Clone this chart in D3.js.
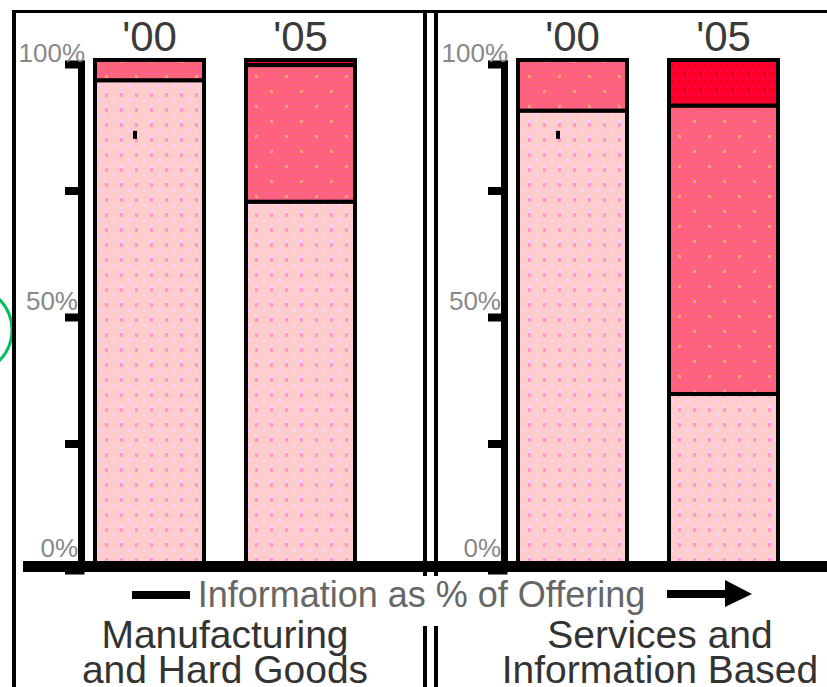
<!DOCTYPE html>
<html>
<head>
<meta charset="utf-8">
<script src="https://cdn.jsdelivr.net/npm/d3@7"></script>
<style>
  html, body { margin: 0; padding: 0; background: #fff; }
  svg { display: block; font-family: "Liberation Sans", Arial, sans-serif; }
</style>
</head>
<body>
<svg id="chart" width="827" height="687"></svg>
<script>
// ---- data -------------------------------------------------------------
const years = ["'00", "'05"];
const sectorLines = [["Manufacturing", "and Hard Goods"], ["Services and", "Information Based"]];

// share of the offering (%) in each layer, one value per year
const mfgProduct = [96, 72];
const mfgBlended = [4, 27];
const mfgInformation = [0, 1];
const svcProduct = [90, 34];
const svcBlended = [10, 57];
const svcInformation = [0, 9];

const tickValues = [0, 25, 50, 75, 100];
const tickLabels = ["0%", "", "50%", "", "100%"];
const axisCaption = "Information as % of Offering";

const layerKeys = ["product", "blended", "information"];

const sectors = [
  years.map((yr, i) => ({ year: yr, product: mfgProduct[i], blended: mfgBlended[i], information: mfgInformation[i] })),
  years.map((yr, i) => ({ year: yr, product: svcProduct[i], blended: svcBlended[i], information: svcInformation[i] }))
];

// ---- layout -----------------------------------------------------------
const W = 827, H = 687;
const svg = d3.select("#chart");

const y = d3.scaleLinear().domain([0, 100]).range([566, 60]);
const panelX = d3.scaleBand().domain([0, 1]).range([0, 846]);
const x = d3.scaleBand().domain(years).range([95, 355]).paddingInner(42 / 151).paddingOuter(0);
const axisX = 81;
const captionShift = [0, 12];

// ---- fill patterns ----------------------------------------------------
const defs = svg.append("defs");

const pProduct = defs.append("pattern").attr("id", "fill-product")
  .attr("patternUnits", "userSpaceOnUse").attr("width", 15).attr("height", 15);
pProduct.append("rect").attr("width", 15).attr("height", 15).attr("fill", "#ffcccc");
pProduct.append("rect").attr("x", 0).attr("y", 0).attr("width", 3).attr("height", 3).attr("fill", "#ffccff");
pProduct.append("rect").attr("x", 0).attr("y", 3).attr("width", 3).attr("height", 4).attr("fill", "#ff99cc");
pProduct.append("rect").attr("x", 8).attr("y", 9).attr("width", 3).attr("height", 3).attr("fill", "#ffccff");

const pBlended = defs.append("pattern").attr("id", "fill-blended")
  .attr("patternUnits", "userSpaceOnUse").attr("width", 30).attr("height", 30);
pBlended.append("rect").attr("width", 30).attr("height", 30).attr("fill", "#ff6666");
for (let i = 0; i < 10; i++) {
  for (let j = 0; j < 10; j++) {
    if ((i + j) % 2 === 0) {
      pBlended.append("rect").attr("x", i * 3).attr("y", j * 3).attr("width", 3).attr("height", 3).attr("fill", "#ff5f99");
    }
  }
}
pBlended.append("rect").attr("x", 0).attr("y", 0).attr("width", 3).attr("height", 3).attr("fill", "#ff9999");
pBlended.append("rect").attr("x", 15).attr("y", 15).attr("width", 3).attr("height", 3).attr("fill", "#ff9999");

const pInfo = defs.append("pattern").attr("id", "fill-information")
  .attr("patternUnits", "userSpaceOnUse").attr("width", 16).attr("height", 16);
pInfo.append("rect").attr("width", 16).attr("height", 16).attr("fill", "#ff0033");
pInfo.append("rect").attr("x", 0).attr("y", 0).attr("width", 3).attr("height", 3).attr("fill", "#ff0000");
pInfo.append("rect").attr("x", 8).attr("y", 0).attr("width", 3).attr("height", 3).attr("fill", "#ee0011");
pInfo.append("rect").attr("x", 4).attr("y", 8).attr("width", 3).attr("height", 3).attr("fill", "#cc0000");
pInfo.append("rect").attr("x", 12).attr("y", 8).attr("width", 3).attr("height", 3).attr("fill", "#ff0000");

const fills = { product: "url(#fill-product)", blended: "url(#fill-blended)", information: "url(#fill-information)" };

// ---- green margin arc ---------------------------------------------------
svg.append("circle").attr("cx", -31.5).attr("cy", 330).attr("r", 43.5)
  .attr("fill", "none").attr("stroke", "#00c060").attr("stroke-width", 3);

// ---- frame lines --------------------------------------------------------
svg.append("rect").attr("x", 12).attr("y", 10).attr("width", 4).attr("height", H - 10).attr("fill", "#000");
svg.append("rect").attr("x", 12).attr("y", 10).attr("width", W - 12).attr("height", 3).attr("fill", "#000");
[423, 434].forEach(dx => {
  svg.append("rect").attr("x", dx).attr("y", 13).attr("width", 4).attr("height", 563).attr("fill", "#000");
  svg.append("rect").attr("x", dx).attr("y", 626).attr("width", 4).attr("height", H - 626).attr("fill", "#000");
});

// ---- panels -------------------------------------------------------------
const stack = d3.stack().keys(layerKeys);

sectors.forEach((rows, p) => {
  const g = svg.append("g").attr("transform", `translate(${panelX(p)},0)`);

  // axis
  const axis = d3.axisLeft(y).tickValues(tickValues).tickSize(16).tickSizeOuter(0)
    .tickFormat((d, i) => tickLabels[i]);
  const ga = g.append("g").attr("transform", `translate(${axisX},0)`).call(axis)
    .attr("font-size", null).attr("font-family", null);
  ga.select(".domain").attr("stroke", "#000").attr("stroke-width", 7);
  ga.selectAll(".tick line").attr("stroke", "#000").attr("stroke-width", 8)
    .attr("x1", 3.5).attr("y1", 4).attr("y2", 4);
  ga.selectAll(".tick text")
    .attr("fill", "#888").attr("font-size", 26).attr("dy", null)
    .attr("x", d => d === 100 ? 4 : -3)
    .attr("y", d => d === 0 ? -10 : d === 100 ? 1 : -4);

  // stacked bars
  const series = stack(rows);
  series.forEach(s => {
    g.selectAll(null).data(s.filter(d => d[1] - d[0] > 0)).join("rect")
      .attr("x", d => x(d.data.year))
      .attr("width", x.bandwidth())
      .attr("y", d => y(d[1]))
      .attr("height", d => y(d[0]) - y(d[1]))
      .attr("fill", fills[s.key])
      .attr("stroke", "#000")
      .attr("stroke-width", 4);
  });

  // small ink mark on the first-year bar
  g.append("rect").attr("x", x(years[0]) + 38).attr("y", y(86)).attr("width", 4).attr("height", 8).attr("fill", "#000");

  // year labels
  g.selectAll(null).data(years).join("text")
    .attr("x", d => x(d) + x.bandwidth() / 2)
    .attr("y", 51)
    .attr("text-anchor", "middle")
    .attr("font-size", 42)
    .attr("fill", "#3a3a3a")
    .text(d => d);

  // sector caption, two lines
  const cx = (x.range()[0] + x.range()[1]) / 2 + captionShift[p];
  g.append("text").attr("x", cx).attr("y", 648).attr("text-anchor", "middle")
    .attr("font-size", 39).attr("fill", "#333").text(sectorLines[p][0]);
  g.append("text").attr("x", cx).attr("y", 683).attr("text-anchor", "middle")
    .attr("font-size", 39).attr("fill", "#333").text(sectorLines[p][1]);
});

// ---- baseline -----------------------------------------------------------
svg.append("rect").attr("x", 23).attr("y", y(0) - 5).attr("width", W - 23).attr("height", 11).attr("fill", "#000");

// ---- information arrow caption ----------------------------------------
svg.append("line").attr("x1", 132).attr("x2", 190).attr("y1", 595).attr("y2", 595)
  .attr("stroke", "#000").attr("stroke-width", 8);
svg.append("text").attr("x", 421.5).attr("y", 607).attr("text-anchor", "middle")
  .attr("font-size", 36).attr("fill", "#666").text(axisCaption);
svg.append("line").attr("x1", 667).attr("x2", 735).attr("y1", 594).attr("y2", 594)
  .attr("stroke", "#000").attr("stroke-width", 8);
svg.append("path").attr("d", "M725,580 L752,594 L725,607 Z").attr("fill", "#000");
</script>
</body>
</html>
